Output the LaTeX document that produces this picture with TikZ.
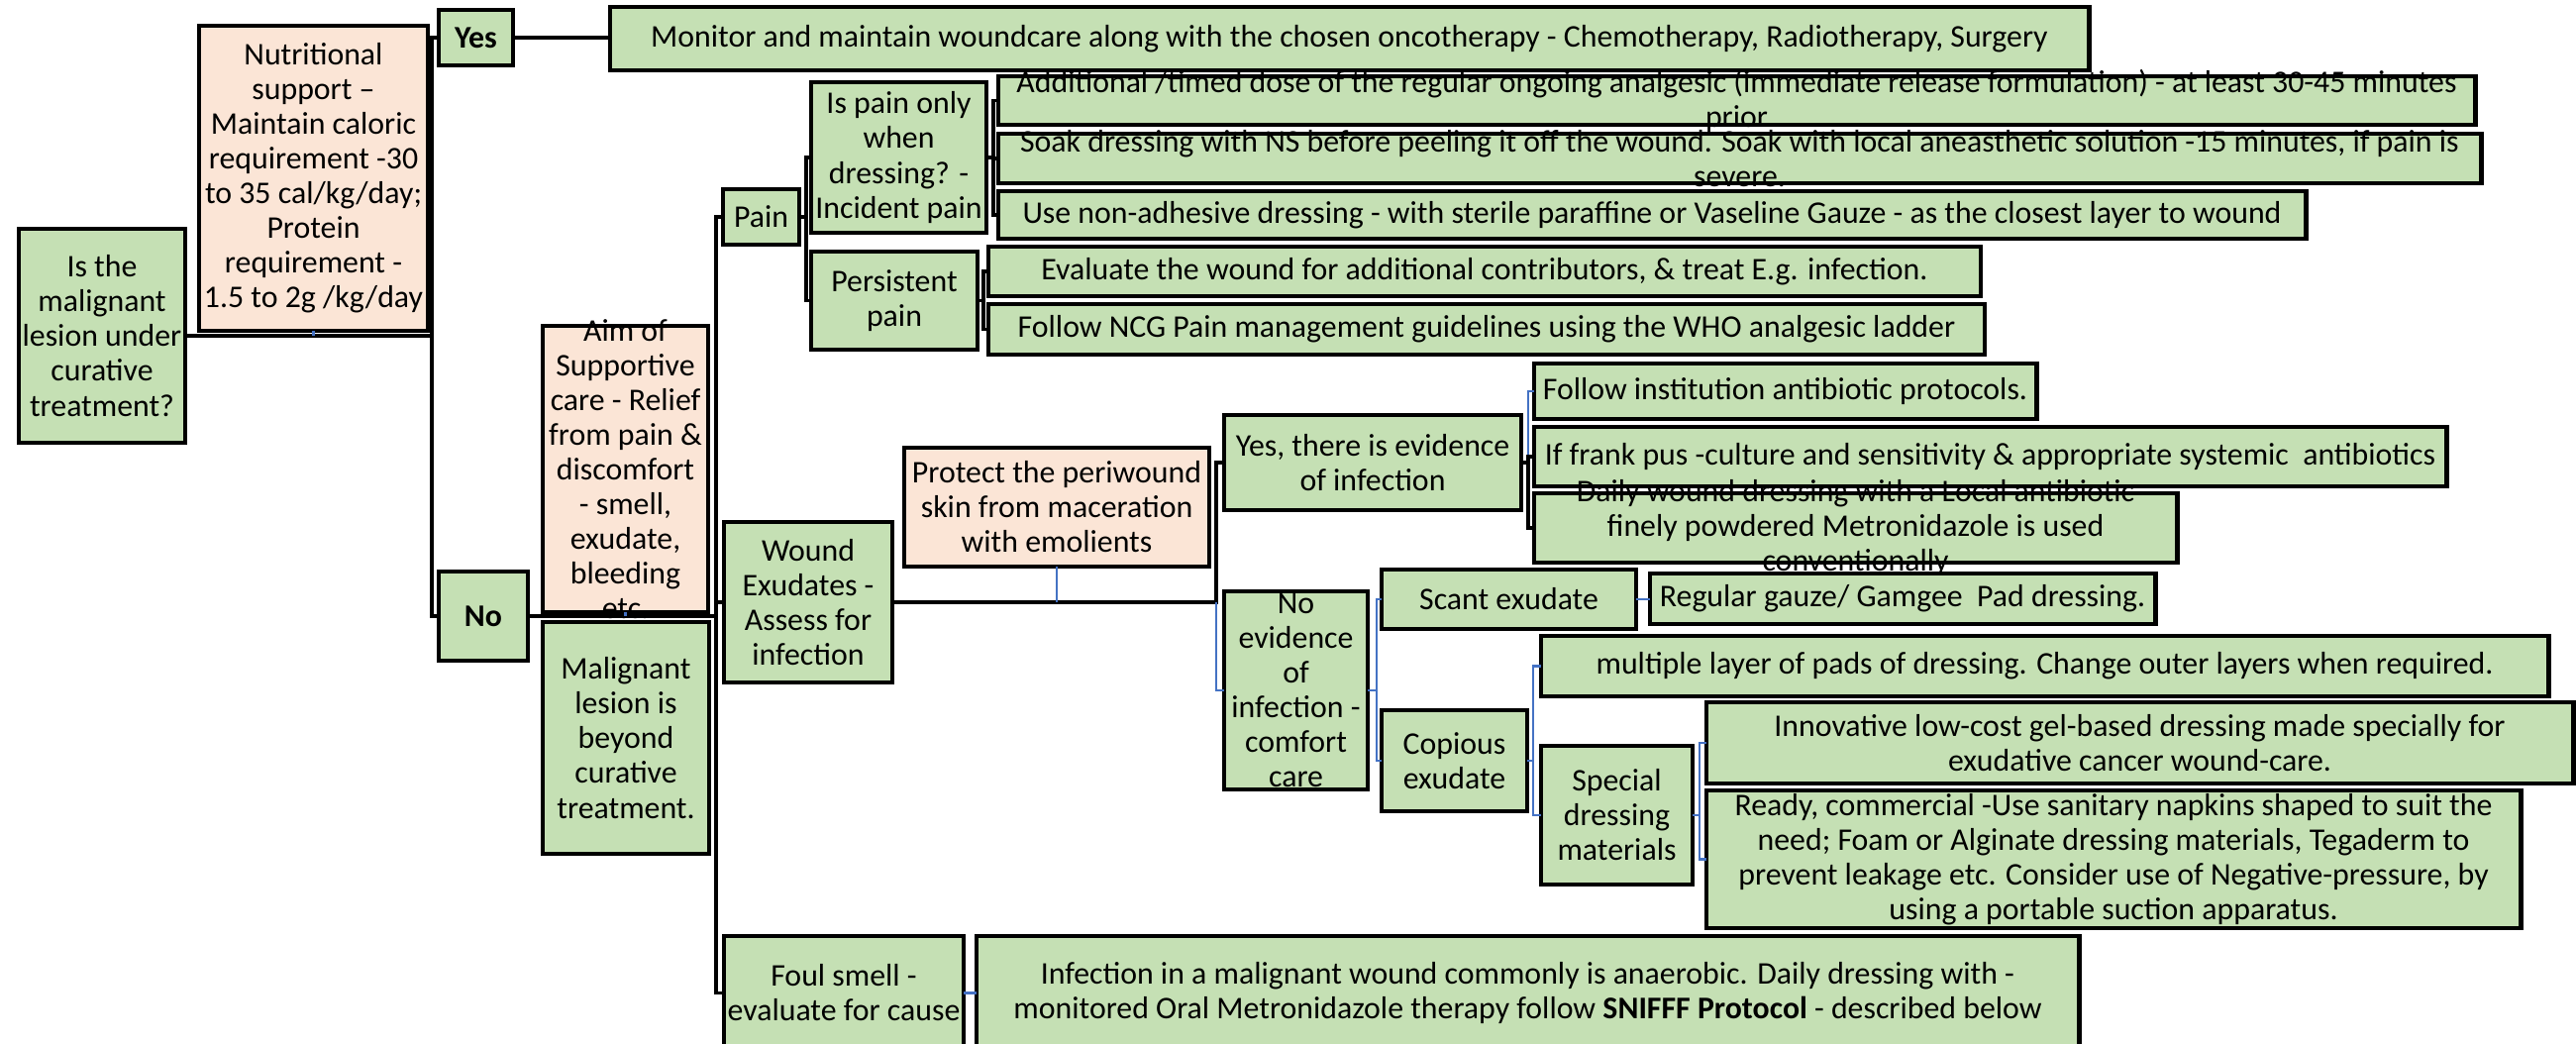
\documentclass[tikz,border=0pt]{standalone}
\usepackage{fontspec}
\setmainfont{Carlito}
\usetikzlibrary{calc}
\definecolor{gfill}{HTML}{C5E0B4}
\definecolor{pfill}{HTML}{FBE5D6}
\definecolor{cblue}{HTML}{4472C4}
\tikzset{
 gbox/.style={draw=black, fill=gfill, line width=1.4pt, inner sep=0pt, outer sep=0pt},
 pbox/.style={gbox, fill=pfill},
 txt/.style={align=center, inner sep=0pt, font=\fontsize{9.05}{9.96}\selectfont},
 conn/.style={line width=1.1pt, black},
 bconn/.style={line width=0.6pt, cblue},
}
\newcommand\bx[7]{%
 \node[#6, minimum width={(#4-#2)*0.01cm}, minimum height={(#5-#3)*0.01cm}] (#1) at ({(#2+#4)/2},{(#3+#5)/2}) {};
 \node[txt] (#1t) at (#1.center) {#7};
}
\begin{document}
\begin{tikzpicture}[x=0.01cm, y=-0.01cm]
\useasboundingbox (0,0) rectangle (2601,1053);
\clip (0,0) rectangle (2601,1053);
\fill[white] (0,0) rectangle (2601,1053);
% junction coordinates
\coordinate (j1) at (436,0);
\coordinate (j2) at (723,0);
\coordinate (j3) at (814,0);
\coordinate (j4) at (1003,0);
\coordinate (j5) at (993,0);
\coordinate (j6) at (1228,0);
\coordinate (j7) at (1543,0);
\coordinate (j8) at (1390,0);
\coordinate (j9) at (1548,0);
\coordinate (j10) at (1716,0);
% boxes
\bx{Q}{19}{231}{187}{447}{gbox}{Is the\\malignant\\lesion under\\curative\\treatment?}
\bx{Nut}{201}{26}{432}{334}{pbox}{Nutritional\\support –\\Maintain caloric\\requirement -30\\to 35 cal/kg/day;\\Protein\\requirement -\\1.5 to 2g /kg/day}
\bx{Yes}{443}{10}{518}{66}{gbox}{\bfseries Yes}
\bx{Mon}{616}{7}{2109}{71}{gbox}{Monitor and maintain woundcare along with the chosen oncotherapy - Chemotherapy, Radiotherapy, Surgery}
\bx{No}{443}{577}{533}{667}{gbox}{\bfseries No}
\bx{Aim}{548}{329}{715}{618}{pbox}{Aim of\\Supportive\\care - Relief\\from pain \&\\discomfort\\- smell,\\exudate,\\bleeding\\etc.}
\bx{Mal}{548}{628}{716}{862}{gbox}{Malignant\\lesion is\\beyond\\curative\\treatment.}
\bx{Pain}{730}{191}{807}{247}{gbox}{Pain}
\bx{Wound}{731}{527}{901}{689}{gbox}{Wound\\Exudates -\\Assess for\\infection}
\bx{Foul}{731}{945}{973}{1060}{gbox}{Foul smell -\\evaluate for cause}
\bx{Inf}{986}{945}{2099}{1060}{gbox}{Infection in a malignant wound commonly is anaerobic. Daily dressing with -\\monitored Oral Metronidazole therapy follow \textbf{SNIFFF Protocol} - described below}
\bx{IsPain}{819}{83}{996}{235}{gbox}{Is pain only\\when\\dressing? -\\Incident pain}
\bx{Pers}{819}{254}{987}{353}{gbox}{Persistent\\pain}
\bx{Add}{1008}{77}{2499}{126}{gbox}{Additional /timed dose of the regular ongoing analgesic (immediate release formulation) - at least 30-45 minutes\\prior}
\bx{Soak}{1008}{135}{2505}{185}{gbox}{Soak dressing with NS before peeling it off the wound. Soak with local aneasthetic solution -15 minutes, if pain is\\severe.}
\bx{Use}{1008}{193}{2328}{241}{gbox}{Use non-adhesive dressing - with sterile paraffine or Vaseline Gauze - as the closest layer to wound}
\bx{Eval}{998}{249}{2000}{299}{gbox}{Evaluate the wound for additional contributors, \& treat E.g. infection.}
\bx{NCG}{998}{307}{2004}{358}{gbox}{Follow NCG Pain management guidelines using the WHO analgesic ladder}
\bx{Prot}{913}{452}{1221}{572}{pbox}{Protect the periwound\\skin from maceration\\with emolients}
\bx{YesEv}{1236}{419}{1536}{515}{gbox}{Yes, there is evidence\\of infection}
\bx{NoEv}{1236}{597}{1381}{797}{gbox}{No\\evidence\\of\\infection -\\comfort\\care}
\bx{Inst}{1549}{367}{2056}{423}{gbox}{Follow institution antibiotic protocols.}
\bx{Frank}{1549}{431}{2470}{491}{gbox}{If frank pus -culture and sensitivity \& appropriate systemic\ \ antibiotics}
\bx{Daily}{1549}{498}{2198}{568}{gbox}{Daily wound dressing with a Local antibiotic\\finely powdered Metronidazole is used\\conventionally}
\bx{Scant}{1395}{575}{1652}{635}{gbox}{Scant exudate}
\bx{Reg}{1666}{579}{2176}{630}{gbox}{Regular gauze/ Gamgee\ \ Pad dressing.}
\bx{Cop}{1395}{717}{1542}{819}{gbox}{Copious\\exudate}
\bx{Mult}{1556}{642}{2573}{703}{gbox}{multiple layer of pads of dressing. Change outer layers when required.}
\bx{Spec}{1556}{753}{1709}{893}{gbox}{Special\\dressing\\materials}
\bx{Inno}{1723}{709}{2598}{791}{gbox}{Innovative low-cost gel-based dressing made specially for\\exudative cancer wound-care.}
\bx{Ready}{1723}{798}{2545}{937}{gbox}{Ready, commercial -Use sanitary napkins shaped to suit the\\need; Foam or Alginate dressing materials, Tegaderm to\\prevent leakage etc. Consider use of Negative-pressure, by\\using a portable suction apparatus.}
% connectors
\draw[conn] (Q.east) -- (Q.east -| j1) |- (Yes.west);
\draw[conn] (Q.east -| j1) |- (No.west);
\draw[bconn] (Nut.south) -- (Nut.south |- Q.east);
\draw[conn] (Yes.east) -- (Yes.east -| Mon.west);
\draw[conn] (No.east) -- (No.east -| j2) |- (Pain.west);
\draw[conn] (No.east -| j2) |- (Foul.west);
\draw[conn] (j2 |- Wound.west) -- (Wound.west);
\draw[bconn] (Aim.south) -- (Aim.south |- No.east);
\draw[conn] (Pain.east) -- (Pain.east -| j3) |- (IsPain.west);
\draw[conn] (Pain.east -| j3) |- (Pers.west);
\draw[conn] (IsPain.east) -- (IsPain.east -| j4) |- (Add.west);
\draw[conn] (IsPain.east -| j4) |- (Soak.west);
\draw[conn] (IsPain.east -| j4) |- (Use.west);
\draw[conn] (Pers.east) -- (Pers.east -| j5) |- (Eval.west);
\draw[conn] (Pers.east -| j5) |- (NCG.west);
\draw[conn] (Wound.east) -- (Wound.east -| j6) |- (YesEv.west);
\draw[bconn] (Wound.east -| j6) |- (NoEv.west);
\draw[bconn] (Prot.south) -- (Prot.south |- Wound.east);
\draw[bconn] (YesEv.east -| j7) |- (Inst.west);
\draw[conn] (YesEv.east) -- (YesEv.east -| j7) |- (Frank.west);
\draw[conn] (YesEv.east -| j7) |- (Daily.west);
\draw[bconn] (NoEv.east) -- (NoEv.east -| j8) |- (Scant.west);
\draw[bconn] (NoEv.east -| j8) |- (Cop.west);
\draw[bconn] (Scant.east) -- (Scant.east -| Reg.west);
\draw[bconn] (Cop.east) -- (Cop.east -| j9) |- (Mult.west);
\draw[bconn] (Cop.east -| j9) |- (Spec.west);
\draw[bconn] (Spec.east) -- (Spec.east -| j10) |- (Inno.west);
\draw[bconn] (Spec.east -| j10) |- (Ready.west);
\draw[bconn] (Foul.east) -- (Foul.east -| Inf.west);
\end{tikzpicture}
\end{document}
